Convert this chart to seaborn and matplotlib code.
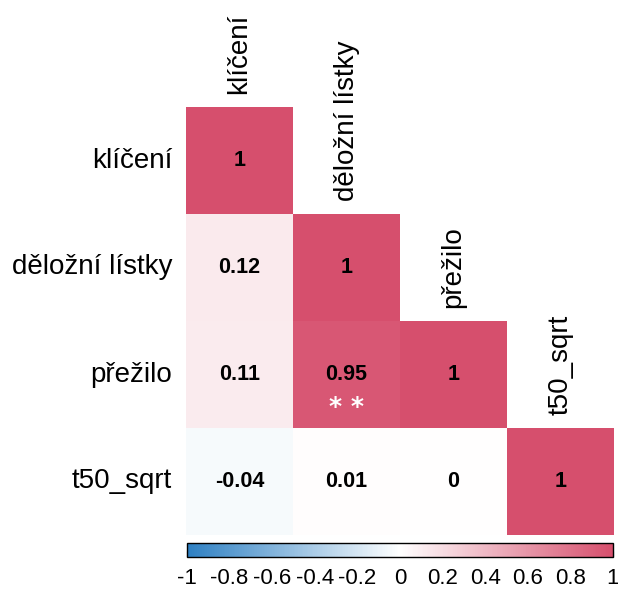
import numpy as np
import pandas as pd
import matplotlib
matplotlib.use("Agg")
import matplotlib.pyplot as plt
from matplotlib.colors import LinearSegmentedColormap
import seaborn as sns

# Variables and their pairwise correlations (lower triangle)
variables = ["klíčení", "děložní lístky", "přežilo", "t50_sqrt"]
row_klicení = [1.00, np.nan, np.nan, np.nan]
row_delozni = [0.12, 1.00, np.nan, np.nan]
row_prezilo = [0.11, 0.95, 1.00, np.nan]
row_t50 = [-0.04, 0.01, 0.00, 1.00]
value_labels = [
    ["1", "", "", ""],
    ["0.12", "1", "", ""],
    ["0.11", "0.95", "1", ""],
    ["-0.04", "0.01", "0", "1"],
]
# significance stars: (row, column, stars)
significance = [(2, 1, "**")]
cbar_ticks = [-1, -0.8, -0.6, -0.4, -0.2, 0, 0.2, 0.4, 0.6, 0.8, 1]
cbar_ticklabels = ["-1", "-0.8", "-0.6", "-0.4", "-0.2", "0", "0.2", "0.4", "0.6", "0.8", "1"]

corr = pd.DataFrame([row_klicení, row_delozni, row_prezilo, row_t50],
                    index=variables, columns=variables)
mask = np.triu(np.ones_like(corr, dtype=bool), k=1)

sns.set_theme(style="white")
plt.rcParams["font.family"] = ["Liberation Sans", "DejaVu Sans"]

cmap = LinearSegmentedColormap.from_list("bwr_soft", ["#2e80c3", "#ffffff", "#d64f6d"])

W, H = 618, 589
fig = plt.figure(figsize=(W / 100, H / 100), dpi=100)
ax = fig.add_axes([186 / W, 1 - 535 / H, 428 / W, 428 / H])
cax = fig.add_axes([187 / W, 1 - 557 / H, 426 / W, 14 / H])

sns.heatmap(corr, mask=mask, cmap=cmap, vmin=-1, vmax=1, ax=ax,
            annot=np.array(value_labels), fmt="",
            annot_kws={"color": "black", "fontweight": "bold", "fontsize": 15.5},
            cbar_ax=cax, cbar_kws={"orientation": "horizontal", "ticks": cbar_ticks},
            square=False)

# significance stars below the value
for r, c, stars in significance:
    ax.text(c + 0.5, r + 0.8, " ".join(stars), ha="center", va="center",
            color="white", fontsize=18, fontweight="bold", family="DejaVu Sans")

# row labels on the left
ax.set_xticks([])
ax.set_ylabel("")
ax.set_xlabel("")
ax.set_yticks(np.arange(len(variables)) + 0.5)
ax.set_yticklabels(variables, rotation=0, fontsize=20, color="black")
ax.tick_params(axis="y", length=0, pad=10)

# column labels standing above each diagonal cell
for j, name in enumerate(variables):
    ax.text(j + 0.5, j - 0.12, name, rotation=90, ha="center", va="bottom",
            fontsize=20, color="black", clip_on=False)

for s in ax.spines.values():
    s.set_visible(False)

# colorbar styling
cbar = ax.collections[0].colorbar
cbar.outline.set_edgecolor("black")
cbar.outline.set_linewidth(1.0)
cbar.set_ticks(cbar_ticks)
cbar.set_ticklabels(cbar_ticklabels)
cax.tick_params(axis="x", direction="in", length=4, width=0.8, color="#333333",
                labelsize=16, pad=8, labelcolor="black")

fig.savefig("out.png", dpi=100, facecolor="white")
